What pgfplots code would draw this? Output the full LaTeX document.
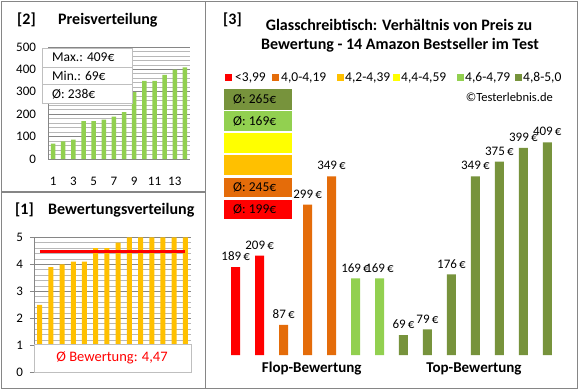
\documentclass[border=0pt]{standalone}
\usepackage{pgfplots}
\pgfplotsset{compat=1.18}
\usepackage{fontspec}
\setmainfont{Carlito}
\definecolor{cred}{HTML}{FF0000}
\definecolor{corange}{HTML}{E46C0A}
\definecolor{cgold}{HTML}{FFC000}
\definecolor{cyellow}{HTML}{FFFF00}
\definecolor{clgreen}{HTML}{92D050}
\definecolor{colive}{HTML}{77933C}
\definecolor{bordergray}{HTML}{868686}
\definecolor{gridmajor}{HTML}{868686}
\definecolor{gridminor}{HTML}{B8B8B8}
\definecolor{boxgray}{HTML}{BFBFBF}
\begin{document}
\begin{tikzpicture}
\useasboundingbox (0pt,0pt) rectangle (580pt,-390pt);
\fill[white] (0pt,0pt) rectangle (580pt,-390pt);
\draw[bordergray, line width=1.2pt] (1.2pt,-1.2pt) rectangle (577.8pt,-388.5pt);
\draw[bordergray, line width=1.2pt] (205.5pt,-1.2pt) -- (205.5pt,-388.5pt);
\draw[bordergray, line width=1.2pt] (1.2pt,-192pt) -- (205.5pt,-192pt);

% ---------- [2] Preisverteilung ----------
\node[anchor=west, inner sep=0pt, font=\bfseries\fontsize{16}{19}\selectfont] at (17pt,-20pt) {[2]};
\node[anchor=west, inner sep=0pt, font=\bfseries\fontsize{16}{19}\selectfont] at (58pt,-20pt) {Preisverteilung};
\begin{axis}[at={(48pt,-159pt)}, anchor=south west, scale only axis,
  width=142pt, height=112pt,
  xmin=0.5, xmax=14.5, ymin=0, ymax=500,
  axis x line*=bottom, axis y line*=left,
  axis line style={draw=gridmajor, line width=0.8pt, -},
  ytick={0,100,...,500}, minor ytick={20,40,...,480},
  ymajorgrids, yminorgrids,
  major grid style={draw=gridmajor, line width=0.8pt},
  minor grid style={draw=gridminor, line width=0.8pt},
  xtick={1,3,...,13},
  major tick length=0pt, minor tick length=0pt,
  tick label style={font=\fontsize{13}{15}\selectfont},
  /pgf/number format/assume math mode=true,
  yticklabel style={xshift=-8.5pt},
  xticklabel style={yshift=-14.5pt},
  ]
\addplot[ybar, bar width=4.5pt, bar shift=0pt, fill=clgreen, draw=none]
  coordinates {(1,69)(2,79)(3,87)(4,169)(5,169)(6,176)(7,189)(8,209)(9,299)(10,349)(11,349)(12,375)(13,399)(14,409)};
\end{axis}
\begin{scope}[font=\fontsize{13.5}{15}\selectfont]
\draw[boxgray, fill=white, line width=0.8pt] (42pt,-48pt) rectangle (132pt,-67pt);
\draw[boxgray, fill=white, line width=0.8pt] (42pt,-67pt) rectangle (132pt,-84.5pt);
\draw[boxgray, fill=white, line width=0.8pt] (42pt,-84.5pt) rectangle (132pt,-103pt);
\node[anchor=west, inner sep=0pt] at (52pt,-57.5pt) {Max.: 409€};
\node[anchor=west, inner sep=0pt] at (52pt,-76pt) {Min.: 69€};
\node[anchor=west, inner sep=0pt] at (52pt,-94pt) {Ø: 238€};
\end{scope}

% ---------- [1] Bewertungsverteilung ----------
\node[anchor=west, inner sep=0pt, font=\bfseries\fontsize{16}{19}\selectfont] at (15pt,-210pt) {[1]};
\node[anchor=west, inner sep=0pt, font=\bfseries\fontsize{16}{19}\selectfont] at (48pt,-210pt) {Bewertungsverteilung};
\begin{axis}[at={(34pt,-372.3pt)}, anchor=south west, scale only axis,
  width=157pt, height=135pt,
  xmin=0.5, xmax=14.5, ymin=0, ymax=5,
  axis x line*=bottom, axis y line*=left,
  axis line style={draw=gridmajor, line width=0.8pt, -},
  ytick={0,1,...,5}, minor ytick={0.2,0.4,...,4.8},
  ymajorgrids, yminorgrids,
  major grid style={draw=gridmajor, line width=0.8pt},
  minor grid style={draw=gridminor, line width=0.8pt},
  xtick=\empty,
  tick align=outside, major tick length=4pt, minor tick length=0pt,
  ytick style={draw=gridmajor, line width=0.8pt},
  tick label style={font=\fontsize{13}{15}\selectfont},
  /pgf/number format/assume math mode=true,
  yticklabel style={xshift=-3.5pt},
  ]
\addplot[ybar, bar width=5pt, bar shift=0pt, fill=cgold, draw=none]
  coordinates {(1,2.5)(2,3.9)(3,4.0)(4,4.1)(5,4.1)(6,4.6)(7,4.6)(8,4.8)(9,5)(10,5)(11,5)(12,5)(13,5)(14,5)};
\addplot[cred, line width=3pt] coordinates {(1,4.47)(14,4.47)};
\end{axis}
\draw[boxgray, fill=white, line width=0.8pt] (34pt,-344pt) rectangle (191pt,-372.5pt);
\node[text=cred, font=\fontsize{14.5}{17}\selectfont] at (112pt,-358pt) {Ø Bewertung: 4,47};

% ---------- [3] main chart ----------
\node[anchor=west, inner sep=0pt, font=\bfseries\fontsize{16}{19}\selectfont] at (223pt,-20pt) {[3]};
\node[font=\bfseries\fontsize{16}{19}\selectfont] at (399pt,-25pt) {Glasschreibtisch: Verhältnis von Preis zu};
\node[font=\bfseries\fontsize{16}{19}\selectfont] at (400pt,-45pt) {Bewertung - 14 Amazon Bestseller im Test};

\begin{scope}[font=\fontsize{13.5}{16}\selectfont]
\fill[cred] (225pt,-74pt) rectangle (232pt,-81pt);
\node[anchor=west, inner sep=0pt] at (235pt,-77.5pt) {<3,99};
\fill[corange] (272pt,-74pt) rectangle (279pt,-81pt);
\node[anchor=west, inner sep=0pt] at (281pt,-77.5pt) {4,0-4,19};
\fill[cgold] (337pt,-74pt) rectangle (344pt,-81pt);
\node[anchor=west, inner sep=0pt] at (345pt,-77.5pt) {4,2-4,39};
\fill[cyellow] (393pt,-74pt) rectangle (400pt,-81pt);
\node[anchor=west, inner sep=0pt] at (401pt,-77.5pt) {4,4-4,59};
\fill[clgreen] (457pt,-74pt) rectangle (464pt,-81pt);
\node[anchor=west, inner sep=0pt] at (465pt,-77.5pt) {4,6-4,79};
\fill[colive] (515pt,-74pt) rectangle (522pt,-81pt);
\node[anchor=west, inner sep=0pt] at (523pt,-77.5pt) {4,8-5,0};
\end{scope}
\node[anchor=east, inner sep=0pt, font=\fontsize{12.5}{15}\selectfont] at (553pt,-97pt) {©Testerlebnis.de};

\begin{scope}[font=\fontsize{13.5}{15}\selectfont]
\fill[colive] (224pt,-89pt) rectangle (292pt,-110pt);
\fill[clgreen] (224pt,-111pt) rectangle (292pt,-131pt);
\fill[cyellow] (224pt,-133pt) rectangle (292pt,-153pt);
\fill[cgold] (224pt,-155pt) rectangle (292pt,-175pt);
\fill[corange] (224pt,-177.5pt) rectangle (292pt,-197pt);
\fill[cred] (224pt,-199.5pt) rectangle (292pt,-219pt);
\node[anchor=west, inner sep=0pt] at (233pt,-99.5pt) {Ø: 265€};
\node[anchor=west, inner sep=0pt] at (233pt,-121pt) {Ø: 169€};
\node[anchor=west, inner sep=0pt] at (233pt,-187pt) {Ø: 245€};
\node[anchor=west, inner sep=0pt] at (233pt,-209.5pt) {Ø: 199€};
\end{scope}

\begin{axis}[at={(223.7pt,-355pt)}, anchor=south west, scale only axis,
  width=335.6pt, height=236pt,
  xmin=0.5, xmax=14.5, ymin=34, ymax=450,
  hide axis,
  nodes near coords={\pgfmathprintnumber[assume math mode=true]{\pgfplotspointmeta}\,€},
  every node near coord/.append style={font=\fontsize{13}{15}\selectfont, yshift=4.6pt, inner sep=1.5pt},
  ]
\addplot[ybar, bar width=9pt, bar shift=0pt, fill=cred, draw=none] coordinates {(1,189)(2,209)};
\addplot[ybar, bar width=9pt, bar shift=0pt, fill=corange, draw=none] coordinates {(3,87)(4,299)(5,349)};
\addplot[ybar, bar width=9pt, bar shift=0pt, fill=clgreen, draw=none] coordinates {(6,169)(7,169)};
\addplot[ybar, bar width=9pt, bar shift=0pt, fill=colive, draw=none] coordinates {(8,69)(9,79)(10,176)(11,349)(12,375)(13,399)(14,409)};
\end{axis}
\node[font=\bfseries\fontsize{15}{18}\selectfont] at (311.7pt,-369pt) {Flop-Bewertung};
\node[font=\bfseries\fontsize{15}{18}\selectfont] at (474pt,-369pt) {Top-Bewertung};
\end{tikzpicture}
\end{document}
